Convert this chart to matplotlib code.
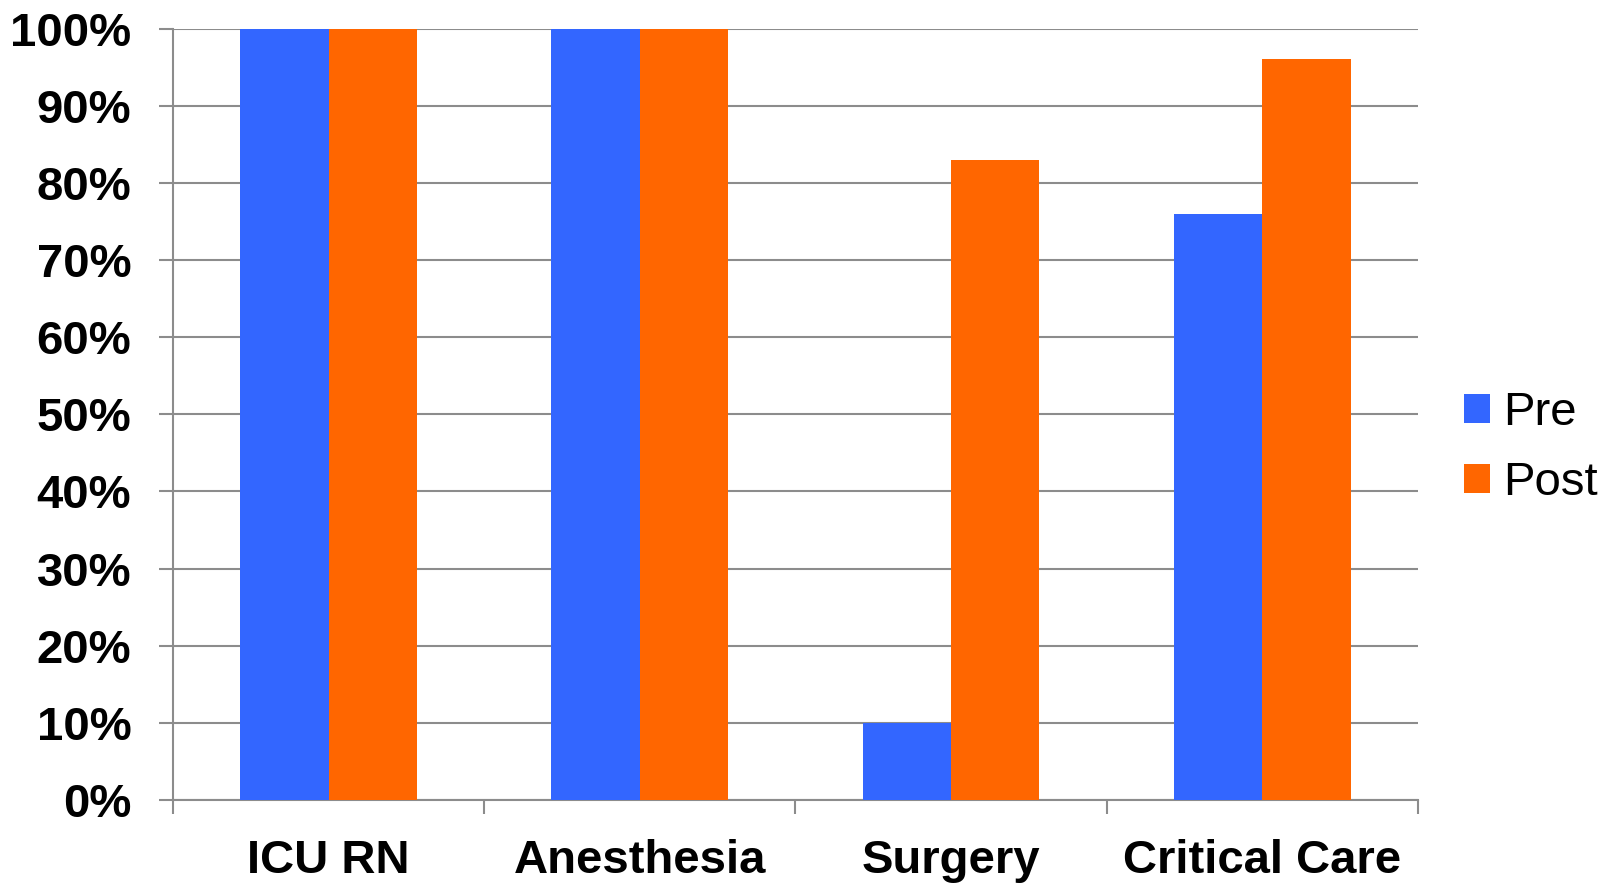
import matplotlib.pyplot as plt
import numpy as np
from matplotlib.patches import Patch

plt.rcParams['font.family'] = ['Liberation Sans', 'DejaVu Sans']

categories = ['ICU RN', 'Anesthesia', 'Surgery', 'Critical Care']
pre = [100, 100, 10, 76]
post = [100, 100, 83, 96]

blue = '#3366FF'
orange = '#FF6600'
grid_col = '#8c8c8c'

fig = plt.figure(figsize=(16.15, 8.84), dpi=100)
ax = fig.add_axes([0.1071, 0.095, 0.7709, 0.8727])

x = np.arange(len(categories)) + 0.5
w = 0.284
ax.bar(x - w / 2, pre, w, color=blue, zorder=3)
ax.bar(x + w / 2, post, w, color=orange, zorder=3)

ax.set_xlim(0, len(categories))
ax.set_ylim(0, 100)
ax.set_yticks(np.arange(0, 101, 10))
ax.set_yticklabels(['%d%%' % v for v in range(0, 101, 10)],
                   fontsize=34, fontweight='bold')
ax.yaxis.grid(True, color=grid_col, linewidth=1.5, zorder=0)

# category boundaries as ticks, names centred between them
ax.set_xticks(np.arange(len(categories) + 1))
ax.set_xticklabels([])
ax.set_xticks(x, minor=True)
ax.set_xticklabels(categories, minor=True, fontsize=34, fontweight='bold')
ax.tick_params(axis='x', which='minor', length=0, pad=28)
ax.tick_params(axis='x', which='major', length=10, width=1.5, color=grid_col)
ax.tick_params(axis='y', length=10, width=1.5, color=grid_col, pad=20)

for side in ['top', 'right']:
    ax.spines[side].set_visible(False)
for side in ['left', 'bottom']:
    ax.spines[side].set_color(grid_col)
    ax.spines[side].set_linewidth(1.5)

handles = [Patch(facecolor=blue, label='Pre'), Patch(facecolor=orange, label='Post')]
fig.legend(handles=handles, loc='center left', bbox_to_anchor=(0.895, 0.493),
           frameon=False, fontsize=34, handlelength=0.55, handleheight=0.55,
           handletextpad=0.28, labelspacing=0.55, borderaxespad=0)

fig.savefig('out.png', dpi=100)
